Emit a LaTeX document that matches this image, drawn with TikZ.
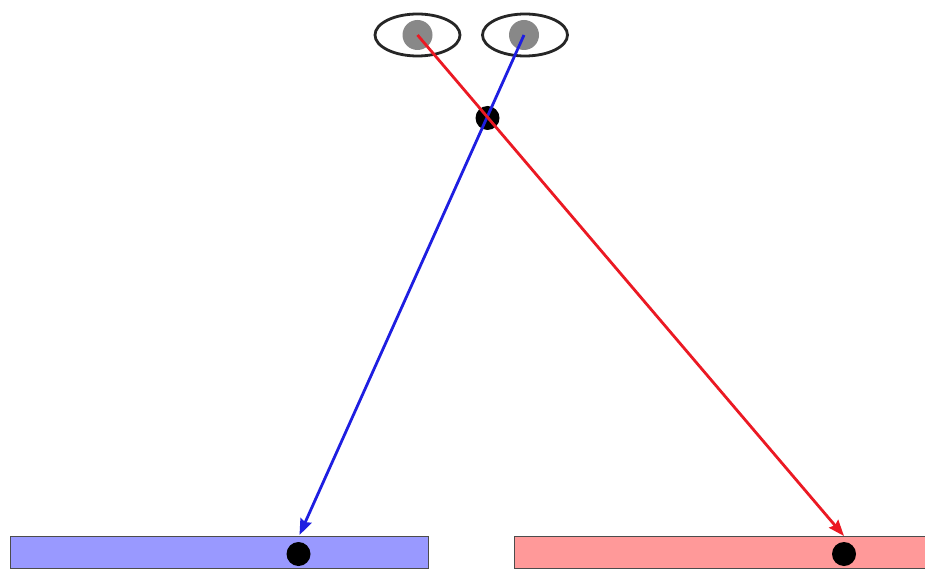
\documentclass[tikz,border=0pt]{standalone}
\usetikzlibrary{arrows.meta,shapes.geometric}
\definecolor{pupilgray}{RGB}{136,136,136}
\definecolor{screenblue}{RGB}{153,153,255}
\definecolor{screenred}{RGB}{255,153,153}
\definecolor{rayblue}{RGB}{30,30,225}
\definecolor{rayred}{RGB}{235,25,35}
\tikzset{
  eyeoutline/.style={draw=black!85,line width=2.8pt,fill=white,ellipse,minimum width=85pt,minimum height=42pt,inner sep=0pt},
  pupil/.style={circle,fill=pupilgray,minimum size=30pt,inner sep=0pt},
  blackdot/.style={circle,fill=black,minimum size=24pt,inner sep=0pt},
  screenbar/.style={draw=black!70,line width=1.4pt,rectangle,anchor=north west,inner sep=0pt,minimum height=32pt},
  ray/.style={line width=2.8pt,-{Stealth[length=16pt,width=12pt,inset=2pt]}}
}
\begin{document}
\begin{tikzpicture}[x=1pt,y=-1pt]
\useasboundingbox (0,0) rectangle (925,569);
\fill[white] (0,0) rectangle (925,569);
\node[eyeoutline] (eyeL) at (417.5,35) {};
\node[eyeoutline] (eyeR) at (525,35) {};
\node[pupil] (pupilL) at (417.5,35) {};
\node[pupil] (pupilR) at (524,35) {};
\node[screenbar,fill=screenblue,minimum width=418.5pt] (barL) at (9.5,536) {};
\node[screenbar,fill=screenred,minimum width=430pt] (barR) at (514,536) {};
\node[blackdot] (dotL) at (298.5,554) {};
\node[blackdot] (dotR) at (844,554) {};
\node[blackdot] (dotM) at (487.5,118) {};
\coordinate (tipL) at (299.5,535);
\coordinate (tipR) at (844,536);
\draw[ray,rayblue] (pupilR.center) -- (tipL);
\draw[ray,rayred] (pupilL.center) -- (tipR);
\end{tikzpicture}
\end{document}
